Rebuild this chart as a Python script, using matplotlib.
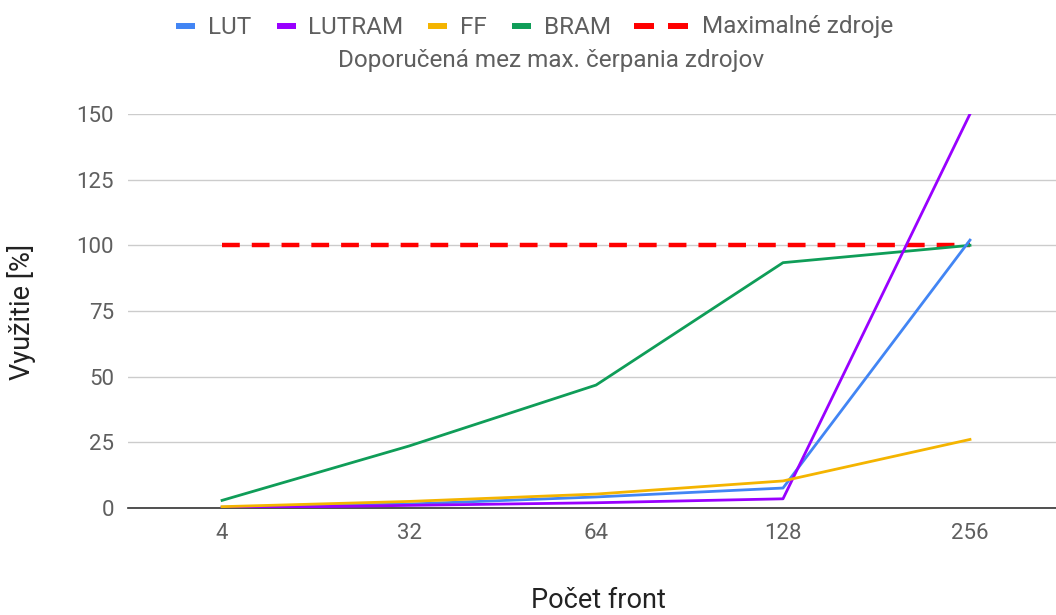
import matplotlib.pyplot as plt
from matplotlib.lines import Line2D

plt.rcParams['font.family'] = ['Roboto', 'DejaVu Sans']

# Data
categories = ['4', '32', '64', '128', '256']
lut = [0.3, 1.5, 4.2, 7.6, 102]
lutram = [0.0, 1.0, 2.0, 3.5, 150]
ff = [0.5, 2.5, 5.3, 10.3, 26.1]
bram = [2.9, 23.6, 46.8, 93.4, 100]
max_res = [100, 100, 100, 100, 100]
yticks = [0, 25, 50, 75, 100, 125, 150]

colors = {'LUT': '#4285F4', 'LUTRAM': '#9900FF', 'FF': '#F4B400',
          'BRAM': '#0F9D58', 'Maximalné zdroje': '#FF0000'}

W, H = 1056, 615
fig = plt.figure(figsize=(W / 100, H / 100), dpi=100)
ax = fig.add_axes([128 / W, 1 - 508 / H, 1 - 128 / W, (508 - 114) / H])

x = list(range(len(categories)))
ax.plot(x, max_res, color=colors['Maximalné zdroje'], lw=3.2, dashes=(4, 2.7), zorder=3)
ax.plot(x, bram, color=colors['BRAM'], lw=2, zorder=4)
ax.plot(x, lut, color=colors['LUT'], lw=2, zorder=4)
ax.plot(x, lutram, color=colors['LUTRAM'], lw=2, zorder=4)
ax.plot(x, ff, color=colors['FF'], lw=2, zorder=5)

ax.set_xlim(-0.503, 4.46)
ax.set_ylim(0, 150)
ax.set_xticks(x)
ax.set_xticklabels(categories)
ax.set_yticks(yticks)
ax.grid(axis='y', color='#cccccc', lw=1)
ax.set_axisbelow(True)
for s in ['top', 'right', 'left']:
    ax.spines[s].set_visible(False)
ax.spines['bottom'].set_color('#333333')
ax.spines['bottom'].set_linewidth(1.2)
ax.spines['bottom'].set_zorder(2)
ax.tick_params(length=0, labelsize=16, labelcolor='#5f5f5f')
ax.tick_params(axis='x', pad=11)
ax.tick_params(axis='y', pad=10)

fig.text(22 / W, 1 - 312 / H, 'Využitie [%]', rotation=90, ha='center',
         va='center', fontsize=19.5, color='#222222')
fig.text(598 / W, 1 - 601 / H, 'Počet front', ha='center', va='center',
         fontsize=19.5, color='#222222')

# legend drawn by hand: marker segments (pixel x ranges) and label start
legend_items = [
    ('LUT', [(176, 195)], 208),
    ('LUTRAM', [(277, 296)], 308),
    ('FF', [(428, 447)], 460),
    ('BRAM', [(512, 531)], 544),
    ('Maximalné zdroje', [(634, 654), (668, 688)], 702),
]
for name, segs, tx in legend_items:
    for x0, x1 in segs:
        fig.add_artist(Line2D([x0 / W, x1 / W], [1 - 26 / H, 1 - 26 / H],
                              color=colors[name], lw=4.3, solid_capstyle='butt'))
    fig.text(tx / W, 1 - 33.5 / H, name, ha='left', va='baseline',
             fontsize=17.5, color='#5f5f5f')
# the second legend row with no marker
fig.text(551 / W, 1 - 61 / H, 'Doporučená mez max. čerpania zdrojov',
         ha='center', va='center', fontsize=17.5, color='#5f5f5f')

fig.savefig('out.png', dpi=100)
